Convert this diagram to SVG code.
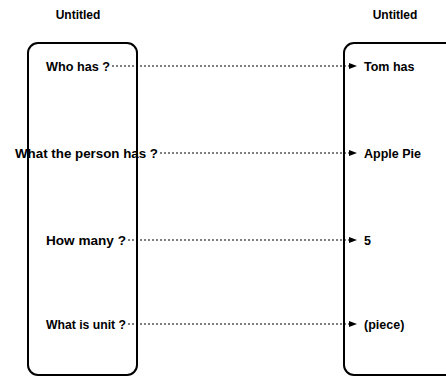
<svg xmlns="http://www.w3.org/2000/svg" width="446" height="381" viewBox="0 0 446 381">
  <defs>
    <marker id="arrow" markerWidth="8" markerHeight="8" refX="7" refY="4" orient="auto" markerUnits="userSpaceOnUse">
      <path d="M0,1 L8,4 L0,7 Z" fill="#000"/>
    </marker>
    <style>
      .box { fill: #fff; stroke: #000; stroke-width: 2; }
      .title { font-family: "Liberation Sans", Arial, sans-serif; font-size: 12px; font-weight: bold; fill: #000; text-anchor: middle; }
      .label { font-family: "Liberation Sans", Arial, sans-serif; font-size: 12.5px; font-weight: bold; fill: #000; }
      .link { stroke: #000; stroke-width: 1.2; stroke-dasharray: 2 2; fill: none; marker-end: url(#arrow); }
    </style>
  </defs>
  <rect width="446" height="381" fill="#fff"/>

  <g id="left-entity">
    <text class="title" x="78" y="19">Untitled</text>
    <rect class="box" x="28" y="43" width="109" height="332" rx="10"/>
    <text class="label" x="46" y="71" textLength="64" lengthAdjust="spacingAndGlyphs">Who has ?</text>
    <text class="label" x="15" y="158" textLength="143" lengthAdjust="spacingAndGlyphs">What the person has ?</text>
    <text class="label" x="46" y="245" textLength="80" lengthAdjust="spacingAndGlyphs">How many ?</text>
    <text class="label" x="46" y="329" textLength="80" lengthAdjust="spacingAndGlyphs">What is unit ?</text>
  </g>

  <g id="right-entity">
    <text class="title" x="395" y="19">Untitled</text>
    <rect class="box" x="344" y="43" width="120" height="332" rx="10"/>
    <text class="label" x="364" y="71">Tom has</text>
    <text class="label" x="364" y="158">Apple Pie</text>
    <text class="label" x="364" y="245">5</text>
    <text class="label" x="364" y="329">(piece)</text>
  </g>

  <g id="connectors">
    <line class="link" x1="112" y1="66" x2="356" y2="66"/>
    <line class="link" x1="160" y1="153" x2="356" y2="153"/>
    <line class="link" x1="128" y1="240" x2="356" y2="240"/>
    <line class="link" x1="128" y1="324" x2="356" y2="324"/>
  </g>
</svg>
